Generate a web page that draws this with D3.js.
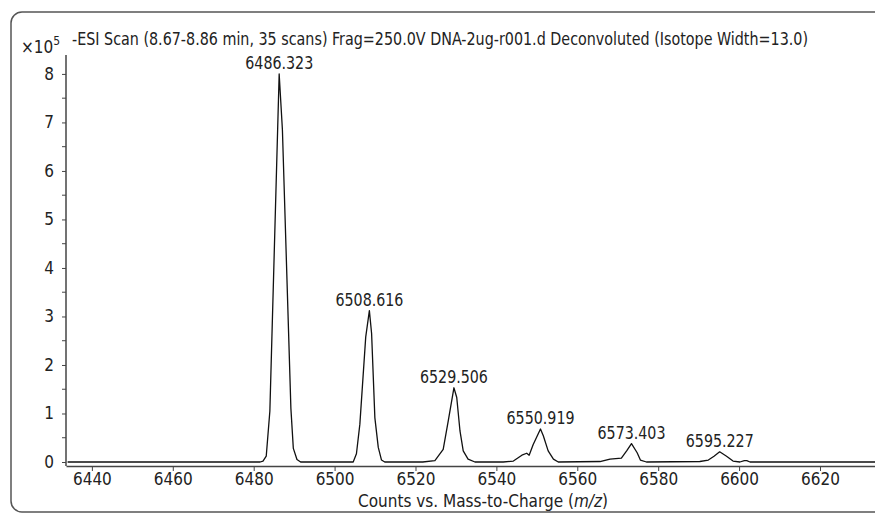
<!DOCTYPE html>
<html>
<head>
<meta charset="utf-8">
<script src="https://cdn.jsdelivr.net/npm/d3@7"></script>
<style>
  body { margin: 0; background: #fff; }
  svg text { font-family: "Liberation Sans Narrow", "DejaVu Sans Condensed", "Liberation Sans", sans-serif; fill: #222; }
</style>
</head>
<body>
<div id="chart"></div>
<script>
// spectrum trace (m/z, counts x10^5)
const mz = [6434, 6481.6, 6482.3, 6483.1, 6484.0, 6486.3, 6487.1, 6489.2, 6489.8, 6490.7, 6491.6,
  6504.6, 6505.4, 6506.25, 6507.7, 6508.6, 6509.15, 6509.96, 6510.8, 6511.6, 6512.4,
  6521.8, 6524.8, 6526.85, 6528.1, 6529.5, 6530.2, 6531.0, 6531.8, 6533.0, 6534.7,
  6541.7, 6544.2, 6546.3, 6547.5, 6548.1, 6549.1, 6550.9, 6551.6, 6552.8, 6554.1, 6555.3,
  6565.6, 6568.1, 6570.9, 6572.2, 6573.4, 6574.8, 6575.6, 6577.1,
  6590.3, 6592.4, 6593.8, 6595.2, 6596.9, 6598.5, 6600.2, 6601.3, 6601.9, 6602.7, 6634];
const counts = [0, 0, 0.02, 0.12, 1.05, 8.0, 6.85, 1.1, 0.28, 0.05, 0,
  0, 0.17, 0.78, 2.58, 3.12, 2.65, 0.91, 0.3, 0.04, 0,
  0, 0.03, 0.26, 0.85, 1.53, 1.33, 0.64, 0.23, 0.06, 0,
  0, 0.02, 0.14, 0.18, 0.14, 0.36, 0.68, 0.54, 0.23, 0.06, 0,
  0.01, 0.06, 0.08, 0.23, 0.38, 0.19, 0.04, 0,
  0.01, 0.04, 0.12, 0.21, 0.12, 0.02, 0.0, 0.03, 0.03, 0, 0];

// labelled peaks
const peakMz = [6486.323, 6508.616, 6529.506, 6550.919, 6573.403, 6595.227];
const peakCounts = [8.0, 3.12, 1.53, 0.68, 0.38, 0.21];
const peakLabels = ["6486.323", "6508.616", "6529.506", "6550.919", "6573.403", "6595.227"];

const xTicks = [6440, 6460, 6480, 6500, 6520, 6540, 6560, 6580, 6600, 6620];
const yTicks = [0, 1, 2, 3, 4, 5, 6, 7, 8];
const yMinor = [0.5, 1.5, 2.5, 3.5, 4.5, 5.5, 6.5, 7.5];

const title = "-ESI Scan (8.67-8.86 min, 35 scans) Frag=250.0V DNA-2ug-r001.d  Deconvoluted (Isotope Width=13.0)";
const xTitle = "Counts vs. Mass-to-Charge (";

const w = 875, h = 514;
const pLeft = 66, pRight = 875, pTop = 55, pBase = 462;

const x = d3.scaleLinear().domain([6433.6, 6633.6]).range([pLeft, pRight]);
const y = d3.scaleLinear().domain([0, 8.39]).range([pBase, pTop]);

const svg = d3.select("#chart").append("svg")
  .attr("width", w).attr("height", h);

// outer frame
svg.append("rect")
  .attr("x", 11).attr("y", 12).attr("width", 900).attr("height", 500)
  .attr("rx", 11)
  .attr("fill", "none").attr("stroke", "#555").attr("stroke-width", 1.5);

// trace
const line = d3.line().x((d, i) => x(mz[i])).y(d => y(d));
svg.append("path")
  .datum(counts)
  .attr("d", line)
  .attr("fill", "none")
  .attr("stroke", "#111")
  .attr("stroke-width", 1.3)
  .attr("stroke-linejoin", "round");

// x axis
const xAxis = d3.axisBottom(x).tickValues(xTicks).tickSize(5).tickSizeOuter(0).tickFormat(d3.format("d"));
const gx = svg.append("g").attr("transform", "translate(0," + (pBase + 4) + ")").call(xAxis);
gx.select(".domain").attr("stroke", "#444").attr("stroke-width", 1.5);
gx.selectAll(".tick line").attr("stroke", "#444");
gx.selectAll(".tick text").attr("font-size", 17).attr("y", 7).attr("fill", "#222");

// y axis
const yAxis = d3.axisLeft(y).tickValues(yTicks).tickSize(4).tickSizeOuter(0).tickFormat(d3.format("d"));
const gy = svg.append("g").attr("transform", "translate(" + pLeft + ",0)").call(yAxis);
gy.select(".domain").attr("stroke", "#444").attr("stroke-width", 1.5)
  .attr("d", "M0," + pTop + "V" + (pBase + 4));
gy.selectAll(".tick line").attr("stroke", "#444");
gy.selectAll(".tick text").attr("font-size", 17).attr("x", -12).attr("fill", "#222");
gy.selectAll(".minor").data(yMinor).enter().append("line")
  .attr("x1", -4).attr("x2", 0)
  .attr("y1", d => y(d)).attr("y2", d => y(d))
  .attr("stroke", "#444");

// peak labels
svg.selectAll(".peak").data(peakLabels).enter().append("text")
  .attr("class", "peak")
  .attr("x", (d, i) => x(peakMz[i]))
  .attr("y", (d, i) => y(peakCounts[i]) - 5)
  .attr("text-anchor", "middle")
  .attr("font-size", 17)
  .attr("textLength", 68)
  .attr("lengthAdjust", "spacingAndGlyphs")
  .text(d => d);

// titles
svg.append("text").attr("x", 72).attr("y", 45).attr("font-size", 17)
  .attr("textLength", 736).attr("lengthAdjust", "spacingAndGlyphs")
  .text(title);

const mult = svg.append("text").attr("x", 21).attr("y", 53).attr("font-size", 17);
mult.append("tspan").text("×10");
mult.append("tspan").attr("dy", -8).attr("font-size", 12).text("5");

const xl = svg.append("text").attr("x", 483).attr("y", 507).attr("text-anchor", "middle").attr("font-size", 17);
xl.append("tspan").text(xTitle);
xl.append("tspan").attr("font-style", "italic").text("m/z");
xl.append("tspan").text(")");
</script>
</body>
</html>
